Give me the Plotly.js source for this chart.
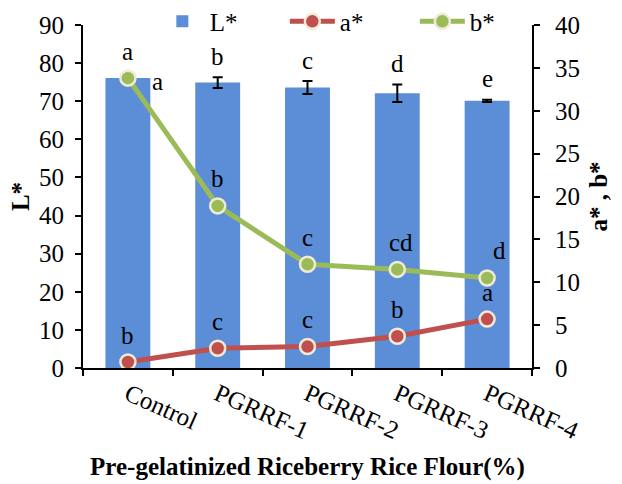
<!DOCTYPE html>
<html><head><meta charset="utf-8">
<script src="https://cdn.plot.ly/plotly-3.0.1.min.js"></script>
<style>html,body{margin:0;padding:0;background:#fff}#c{width:622px;height:484px}</style>
</head><body><div id="c"></div>
<script>
const categories = ["Control", "PGRRF-1", "PGRRF-2", "PGRRF-3", "PGRRF-4"];
const Lvals = [76.1, 74.9, 73.6, 72.1, 70.1];
const Lerr = [0.6, 1.4, 1.7, 2.3, 0.3];
const Aval = [0.7, 2.3, 2.5, 3.7, 5.7];
const Bval = [33.8, 18.9, 12.1, 11.5, 10.5];
const Lletters = ["a", "b", "c", "d", "e"];
const Aletters = ["b", "c", "c", "b", "a"];
const Bletters = ["a", "b", "c", "cd", "d"];

const F = "Liberation Serif, Times New Roman, serif";
const FS = 25;
const blue = "#5B8ED6", red = "#C0504D", green = "#9BBB59", cream = "#F0EAD6";

const traces = [
  {type: "bar", name: "L*", x: categories, y: Lvals, marker: {color: blue},
   error_y: {type: "data", array: Lerr, visible: true, color: "#000", thickness: 2, width: 5}},
  {type: "scatter", mode: "lines+markers", name: "a*", x: categories, y: Aval, yaxis: "y2",
   line: {color: red, width: 5}, marker: {color: red, size: 15, line: {color: cream, width: 2.5}}},
  {type: "scatter", mode: "lines+markers", name: "b*", x: categories, y: Bval, yaxis: "y2",
   line: {color: green, width: 5}, marker: {color: green, size: 15, line: {color: cream, width: 2.5}}}
];

const ann = [];
const tf = {family: F, size: FS, color: "#000"};
categories.forEach((c, i) => {
  if (i === 0) {
    ann.push({x: c, y: Lvals[i], yref: "y", text: Lletters[i], showarrow: false, xshift: 30, yshift: -4, font: tf});
  } else {
    ann.push({x: c, y: Lvals[i] + Lerr[i], yref: "y", text: Lletters[i], showarrow: false, yshift: 21, font: tf});
  }
  ann.push({x: c, y: Aval[i], yref: "y2", text: Aletters[i], showarrow: false, yshift: 27, font: tf});
  ann.push({x: c, y: Bval[i], yref: "y2", text: Bletters[i], showarrow: false, yshift: 27, xshift: (i === 3 ? 4 : (i === 4 ? 12 : 0)), font: tf});
});

const layout = {
  width: 622, height: 484,
  margin: {l: 83, r: 90, t: 25, b: 116, autoexpand: false},
  paper_bgcolor: "#fff", plot_bgcolor: "#fff",
  font: {family: F, size: FS, color: "#000"},
  bargap: 0.5,
  showlegend: true,
  legend: {orientation: "h", x: 0.16, y: 1.01, yanchor: "middle", xanchor: "left",
           font: {family: F, size: FS}, bgcolor: "rgba(0,0,0,0)", itemwidth: 45,
           entrywidth: 70, traceorder: "normal"},
  xaxis: {type: "category", showline: true, linecolor: "#000", linewidth: 2, ticks: "outside",
          tickson: "boundaries", ticklen: 6, tickwidth: 2, tickcolor: "#000", tickangle: 24,
          tickfont: {family: F, size: FS}, showgrid: false, zeroline: false, automargin: false,
          title: {text: "<b>Pre-gelatinized Riceberry Rice Flour(%)</b>", font: {family: F, size: FS}, standoff: 14}},
  yaxis: {range: [0, 90], dtick: 10, showline: true, linecolor: "#000", linewidth: 2, ticks: "outside",
          ticklen: 6, tickwidth: 2, tickcolor: "#000", showgrid: false, zeroline: false, automargin: false,
          tickfont: {family: F, size: FS}, ticklabelstandoff: 6,
          title: {text: "<b>L*</b>", font: {family: F, size: FS}, standoff: 2}},
  yaxis2: {range: [0, 40], dtick: 5, overlaying: "y", side: "right", showline: true, linecolor: "#000",
           linewidth: 2, ticks: "outside", ticklen: 6, tickwidth: 2, tickcolor: "#000", showgrid: false,
           zeroline: false, tickfont: {family: F, size: FS}, automargin: false, ticklabelstandoff: 10,
           title: {text: "<b>a* , b*</b>", font: {family: F, size: FS}, standoff: 10}},
  annotations: ann
};
Plotly.newPlot("c", traces, layout, {displayModeBar: false, staticPlot: true});
</script></body></html>
